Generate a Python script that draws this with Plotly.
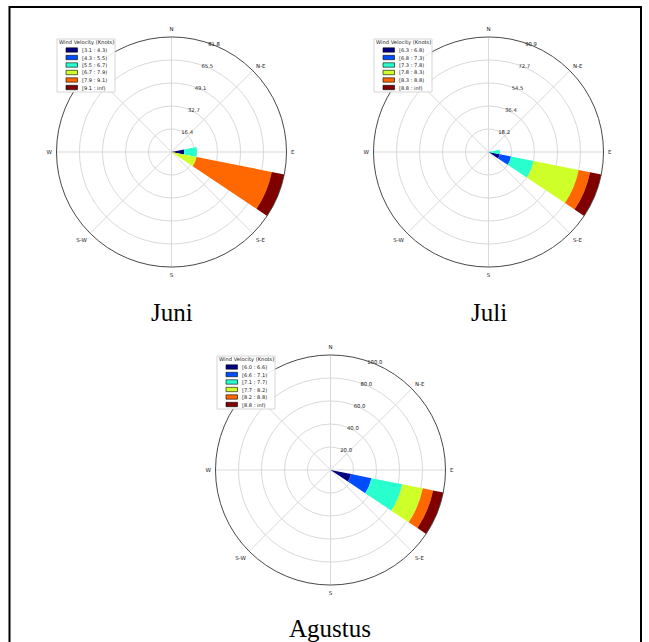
import plotly.graph_objects as go

W, H = 649, 642

# ---------------- data ----------------
directions = [90.0, 112.5]          # E, ESE (compass degrees)
sector_width = 22.5
bin_colors = ["#000080", "#004dff", "#29ffce", "#ceff29", "#ff6800", "#800000"]

juni_bins = ["[3.1 : 4.3)", "[4.3 : 5.5)", "[5.5 : 6.7)", "[6.7 : 7.9)", "[7.9 : 9.1)", "[9.1 : inf)"]
juni_E = [9.09, 0.0, 9.09, 0.0, 0.0, 0.0]
juni_ESE = [0.0, 0.0, 0.0, 18.18, 54.55, 9.09]

juli_bins = ["[6.3 : 6.8)", "[6.8 : 7.3)", "[7.3 : 7.8)", "[7.8 : 8.3)", "[8.3 : 8.8)", "[8.8 : inf)"]
juli_E = [0.0, 0.0, 9.09, 0.0, 0.0, 0.0]
juli_ESE = [9.09, 9.09, 18.18, 36.36, 9.09, 9.09]

agu_bins = ["[6.0 : 6.6)", "[6.6 : 7.1)", "[7.1 : 7.7)", "[7.7 : 8.2)", "[8.2 : 8.8)", "[8.8 : inf)"]
agu_E = [0.0, 0.0, 0.0, 0.0, 0.0, 0.0]
agu_ESE = [18.18, 18.18, 27.27, 18.18, 9.09, 9.09]

compass_vals = [0, 45, 90, 135, 180, 225, 270, 315]
compass_text = ["N", "N-E", "E", "S-E", "S", "S-W", "W", "N-W"]
legend_title = "Wind Velocity (Knots)"
captions = ["Juni", "Juli", "Agustus"]

# --------------- layout helpers ---------------
def px(x):
    return x / W

def py(y):
    return 1 - y / H

R = 115
panels = [
    dict(name="polar", cx=171.5, cy=152, bins=juni_bins, E=juni_E, ESE=juni_ESE,
         leg=(57, 39), cap=(171.5, 312)),
    dict(name="polar2", cx=488.5, cy=152, bins=juli_bins, E=juli_E, ESE=juli_ESE,
         leg=(374, 39), cap=(489, 312)),
    dict(name="polar3", cx=330.5, cy=470, bins=agu_bins, E=agu_E, ESE=agu_ESE,
         leg=(217, 356), cap=(330, 628.5)),
]

fig = go.Figure()
shapes = []
annotations = []
layout_polars = {}

for p in panels:
    sub = p["name"]
    for i in range(6):
        fig.add_trace(go.Barpolar(
            r=[p["E"][i], p["ESE"][i]],
            theta=directions,
            width=[sector_width, sector_width],
            marker=dict(color=bin_colors[i], line=dict(width=0)),
            name=p["bins"][i],
            showlegend=False,
            subplot=sub,
        ))
    rmax = max(sum(p["E"]), sum(p["ESE"]))
    tickvals = [rmax * k / 5 for k in range(1, 6)]
    ticktext = ["%.1f" % v for v in tickvals]
    layout_polars[sub] = dict(
        domain=dict(x=[px(p["cx"] - R), px(p["cx"] + R)],
                    y=[py(p["cy"] + R), py(p["cy"] - R)]),
        bgcolor="white",
        barmode="stack",
        radialaxis=dict(range=[0, rmax], tickvals=tickvals, ticktext=ticktext,
                        showline=False, ticks="", angle=73, tickangle=73,
                        gridcolor="#d9d9d9", gridwidth=0.8,
                        tickfont=dict(family="DejaVu Sans", size=5.3, color="#222")),
        angularaxis=dict(rotation=90, direction="clockwise",
                         tickvals=compass_vals, ticktext=compass_text,
                         ticks="outside", ticklen=3, tickcolor="rgba(0,0,0,0)",
                         showline=True, linecolor="#333", linewidth=0.9,
                         gridcolor="#d9d9d9", gridwidth=0.8,
                         tickfont=dict(family="DejaVu Sans", size=5.5, color="#222")),
    )

    # legend (box, title, patches, labels)
    lx, ly = p["leg"]
    bw, bh = 58, 53
    shapes.append(dict(type="rect", xref="paper", yref="paper",
                       x0=px(lx), x1=px(lx + bw), y0=py(ly + bh), y1=py(ly),
                       fillcolor="rgba(255,255,255,0.9)",
                       line=dict(color="#cccccc", width=0.8), layer="above"))
    annotations.append(dict(text=legend_title, x=px(lx + bw / 2), y=py(ly + 3.8),
                            xref="paper", yref="paper", showarrow=False, borderpad=0,
                            xanchor="center", yanchor="middle",
                            font=dict(family="DejaVu Sans", size=5.2, color="#222")))
    for i in range(6):
        yy = ly + 11 + i * 7.5
        shapes.append(dict(type="rect", xref="paper", yref="paper",
                           x0=px(lx + 9), x1=px(lx + 20.5),
                           y0=py(yy + 2.2), y1=py(yy - 2.2),
                           fillcolor=bin_colors[i], line=dict(color="black", width=0.6),
                           layer="above"))
        annotations.append(dict(text=p["bins"][i], x=px(lx + 23.5), y=py(yy),
                                xref="paper", yref="paper", showarrow=False, borderpad=0,
                                xanchor="left", yanchor="middle",
                                font=dict(family="DejaVu Sans", size=5.1, color="#222")))

for p, cap in zip(panels, captions):
    cx, cy = p["cap"]
    annotations.append(dict(text=cap, x=px(cx), y=py(cy), xref="paper", yref="paper",
                            showarrow=False, xanchor="center", yanchor="middle",
                            font=dict(family="Liberation Serif", size=25, color="black")))

# outer frame
shapes.append(dict(type="rect", xref="paper", yref="paper",
                   x0=px(9.5), x1=px(641), y0=py(646), y1=py(7),
                   line=dict(color="black", width=2), fillcolor="rgba(0,0,0,0)",
                   layer="above"))

fig.update_layout(
    width=W, height=H,
    margin=dict(l=0, r=0, t=0, b=0),
    paper_bgcolor="white",
    showlegend=False,
    shapes=shapes,
    annotations=annotations,
    **layout_polars,
)

fig.write_html("out.html")
